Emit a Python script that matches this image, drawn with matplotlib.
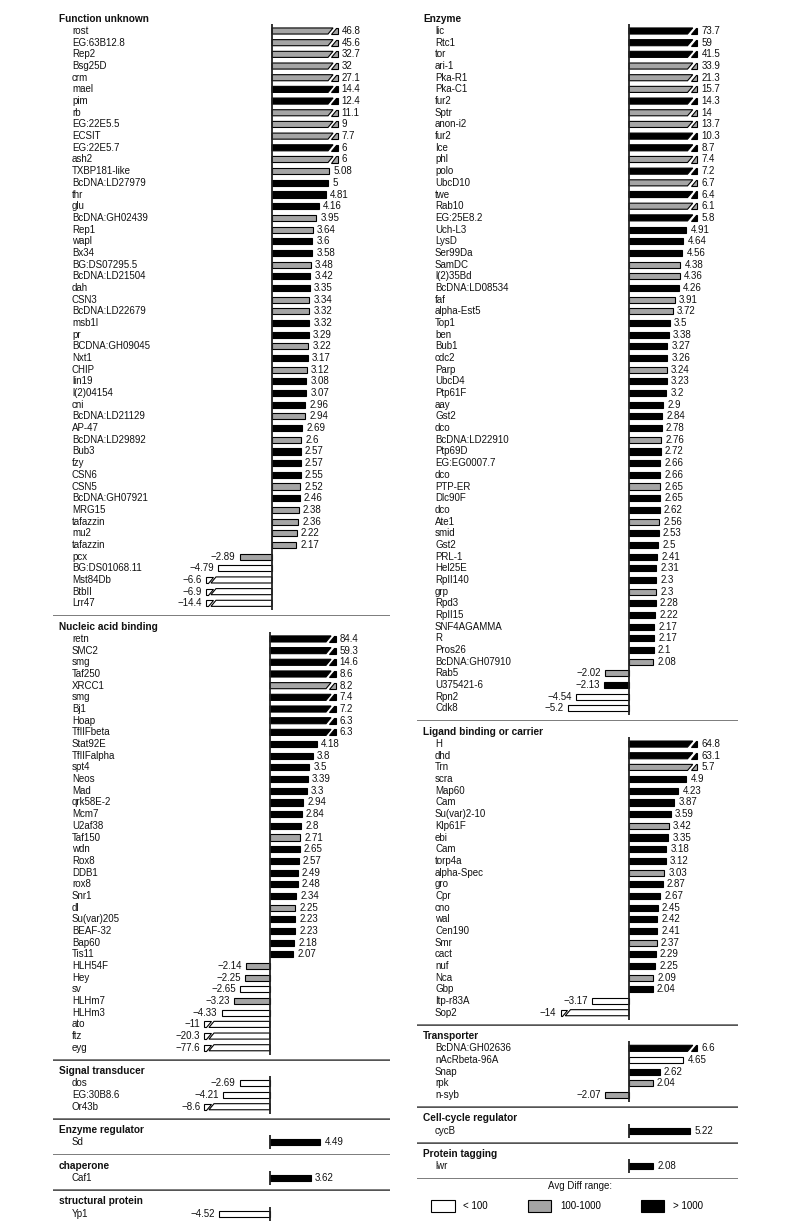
import matplotlib
matplotlib.use("Agg")
import matplotlib.pyplot as plt
from matplotlib.patches import Polygon, Patch
from matplotlib.transforms import blended_transform_factory

plt.rcParams['font.family'] = ['Liberation Sans', 'DejaVu Sans']

# ---------------- data ----------------
fu_genes = ["rost", "EG:63B12.8", "Rep2", "Bsg25D", "crm", "mael", "pim", "rb", "EG:22E5.5", "ECSIT",
            "EG:22E5.7", "ash2", "TXBP181-like", "BcDNA:LD27979", "thr", "glu", "BcDNA:GH02439", "Rep1",
            "wapl", "Bx34", "BG:DS07295.5", "BcDNA:LD21504", "dah", "CSN3", "BcDNA:LD22679", "msb1l", "pr",
            "BCDNA:GH09045", "Nxt1", "CHIP", "lin19", "l(2)04154", "cni", "BcDNA:LD21129", "AP-47",
            "BcDNA:LD29892", "Bub3", "fzy", "CSN6", "CSN5", "BcDNA:GH07921", "MRG15", "tafazzin", "mu2",
            "tafazzin", "pcx", "BG:DS01068.11", "Mst84Db", "BtbII", "Lrr47"]
fu_values = [46.8, 45.6, 32.7, 32, 27.1, 14.4, 12.4, 11.1, 9, 7.7, 6, 6, 5.08, 5, 4.81, 4.16, 3.95, 3.64,
             3.6, 3.58, 3.48, 3.42, 3.35, 3.34, 3.32, 3.32, 3.29, 3.22, 3.17, 3.12, 3.08, 3.07, 2.96, 2.94,
             2.69, 2.6, 2.57, 2.57, 2.55, 2.52, 2.46, 2.38, 2.36, 2.22, 2.17, -2.89, -4.79, -6.6, -6.9, -14.4]
fu_levels = list("gggggbbgggbgg" "bbbgg" "bbgbbggbbgbgbbbgbgbbbgbgggg" "gwwww")

na_genes = ["retn", "SMC2", "smg", "Taf250", "XRCC1", "smg", "Bj1", "Hoap", "TfIIFbeta", "Stat92E",
            "TfIIFalpha", "spt4", "Neos", "Mad", "qrk58E-2", "Mcm7", "U2af38", "Taf150", "wdn", "Rox8",
            "DDB1", "rox8", "Snr1", "dl", "Su(var)205", "BEAF-32", "Bap60", "Tis11", "HLH54F", "Hey", "sv",
            "HLHm7", "HLHm3", "ato", "ftz", "eyg"]
na_values = [84.4, 59.3, 14.6, 8.6, 8.2, 7.4, 7.2, 6.3, 6.3, 4.18, 3.8, 3.5, 3.39, 3.3, 2.94, 2.84, 2.8,
             2.71, 2.65, 2.57, 2.49, 2.48, 2.34, 2.25, 2.23, 2.23, 2.18, 2.07, -2.14, -2.25, -2.65, -3.23,
             -4.33, -11, -20.3, -77.6]
na_levels = list("bbbbgbbbb" "bbbbbbbbgbb" "bbbgbbbb" "ggwgwwww")

st_genes = ["dos", "EG:30B8.6", "Or43b"]
st_values = [-2.69, -4.21, -8.6]
st_levels = list("www")

er_genes = ["Sd"]
er_values = [4.49]
er_levels = ["b"]

ch_genes = ["Caf1"]
ch_values = [3.62]
ch_levels = ["b"]

sp_genes = ["Yp1"]
sp_values = [-4.52]
sp_levels = ["w"]

en_genes = ["lic", "Rtc1", "tor", "ari-1", "Pka-R1", "Pka-C1", "fur2", "Sptr", "anon-i2", "fur2", "Ice",
            "phl", "polo", "UbcD10", "twe", "Rab10", "EG:25E8.2", "Uch-L3", "LysD", "Ser99Da", "SamDC",
            "l(2)35Bd", "BcDNA:LD08534", "faf", "alpha-Est5", "Top1", "ben", "Bub1", "cdc2", "Parp",
            "UbcD4", "Ptp61F", "aay", "Gst2", "dco", "BcDNA:LD22910", "Ptp69D", "EG:EG0007.7", "dco",
            "PTP-ER", "Dlc90F", "dco", "Ate1", "smid", "Gst2", "PRL-1", "Hel25E", "RpII140", "grp", "Rpd3",
            "RpII15", "SNF4AGAMMA", "R", "Pros26", "BcDNA:GH07910", "Rab5", "U375421-6", "Rpn2", "Cdk8"]
en_values = [73.7, 59, 41.5, 33.9, 21.3, 15.7, 14.3, 14, 13.7, 10.3, 8.7, 7.4, 7.2, 6.7, 6.4, 6.1, 5.8,
             4.91, 4.64, 4.56, 4.38, 4.36, 4.26, 3.91, 3.72, 3.5, 3.38, 3.27, 3.26, 3.24, 3.23, 3.2, 2.9,
             2.84, 2.78, 2.76, 2.72, 2.66, 2.66, 2.65, 2.65, 2.62, 2.56, 2.53, 2.5, 2.41, 2.31, 2.3, 2.3,
             2.28, 2.22, 2.17, 2.17, 2.1, 2.08, -2.02, -2.13, -4.54, -5.2]
en_levels = list("bbbgggbggbbgbgbgb" "bbbggbggbbbbgbbbb" "bgbbbgbbgbbbbbgbbbbbg" "gbww")

lb_genes = ["H", "dhd", "Trn", "scra", "Map60", "Cam", "Su(var)2-10", "Klp61F", "ebi", "Cam", "torp4a",
            "alpha-Spec", "gro", "Cpr", "cno", "wal", "Cen190", "Smr", "cact", "nuf", "Nca", "Gbp",
            "Itp-r83A", "Sop2"]
lb_values = [64.8, 63.1, 5.7, 4.9, 4.23, 3.87, 3.59, 3.42, 3.35, 3.18, 3.12, 3.03, 2.87, 2.67, 2.45,
             2.42, 2.41, 2.37, 2.29, 2.25, 2.09, 2.04, -3.17, -14]
lb_levels = list("bbgbbbbgbbbgbbbbbgbbgbww")

tr_genes = ["BcDNA:GH02636", "nAcRbeta-96A", "Snap", "rpk", "n-syb"]
tr_values = [6.6, 4.65, 2.62, 2.04, -2.07]
tr_levels = list("bwbgg")

cc_genes = ["cycB"]
cc_values = [5.22]
cc_levels = ["b"]

pt_genes = ["lwr"]
pt_values = [2.08]
pt_levels = ["b"]

legend_title = "Avg Diff range:"
legend_labels = ["< 100", "100-1000", "> 1000"]

# ---------------- styling ----------------
FILL = {"w": "white", "g": "#a5a5a5", "b": "black"}
W, H, DPI = 800, 1228, 100
ROW = 11.68
FS = 7
BREAK_AT = 5.5
M_BOT, SLANT, P_BOT, P_END = 5.0, 0.45, 5.3, 5.85
BH = 0.52

fig = plt.figure(figsize=(W / DPI, H / DPI), dpi=DPI)

LEFT = dict(left=53, right=390, zero=270, scale=11.2, hdr=59, lab=72)
RIGHT = dict(left=417, right=738, zero=629, scale=11.7, hdr=423, lab=435)


def fmt(v):
    return f"{v:g}".replace("-", "\u2212")


def panel(title, genes, values, levels, y_first, col, zero=None, sep=True):
    n = len(genes)
    z = col["zero"] if zero is None else zero
    top_row, bot_row = -1.6, n + 0.1
    top_px = y_first + top_row * ROW
    bot_px = y_first + bot_row * ROW
    ax = fig.add_axes([col["left"] / W, 1 - bot_px / H,
                       (col["right"] - col["left"]) / W, (bot_px - top_px) / H])
    ax.set_xlim((col["left"] - z) / col["scale"], (col["right"] - z) / col["scale"])
    ax.set_ylim(bot_row, top_row)
    ax.axis("off")
    tr = blended_transform_factory(ax.transAxes, ax.transData)
    wpx = col["right"] - col["left"]
    ax.text((col["hdr"] - col["left"]) / wpx, -1.05, title, transform=tr, fontsize=FS + 0.3,
            fontweight="bold", va="center", ha="left", color="#111")
    for i, (g, v, lv) in enumerate(zip(genes, values, levels)):
        ax.text((col["lab"] - col["left"]) / wpx, i, g, transform=tr, fontsize=FS,
                va="center", ha="left", color="#111")
        fc = FILL[lv]
        top, bot = i - BH / 2, i + BH / 2
        if abs(v) > BREAK_AT:
            if v > 0:
                main = [(0, top), (M_BOT + SLANT, top), (M_BOT, bot), (0, bot)]
                piece = [(P_BOT, bot), (P_END, bot), (P_END, top), (P_BOT + SLANT, top)]
            else:
                main = [(0, top), (-M_BOT, top), (-M_BOT - SLANT, bot), (0, bot)]
                piece = [(-P_BOT, top), (-P_END, top), (-P_END, bot), (-P_BOT - SLANT, bot)]
            for pts in (main, piece):
                ax.add_patch(Polygon(pts, closed=True, facecolor=fc, edgecolor="black",
                                     linewidth=0.8, joinstyle="miter"))
            end = P_END if v > 0 else -P_END
        else:
            ax.barh(i, v, height=BH, color=fc, edgecolor="black", linewidth=0.8)
            end = v
        if v > 0:
            ax.annotate(fmt(v), (end, i), xytext=(3, 0), textcoords="offset points",
                        fontsize=FS, va="center", ha="left", color="#111")
        else:
            ax.annotate(fmt(v), (end, i), xytext=(-3, 0), textcoords="offset points",
                        fontsize=FS, va="center", ha="right", color="#111")
    ax.vlines(0, -0.6, n - 0.4, color="#222", linewidth=1.3)
    if sep:
        ax.axhline(n + 0.05, color="#555", linewidth=1.8)
    return y_first + (n + 2.05) * ROW


y = 31
y = panel("Function unknown", fu_genes, fu_values, fu_levels, y, LEFT, zero=272)
y = panel("Nucleic acid binding", na_genes, na_values, na_levels, y, LEFT)
y = panel("Signal transducer", st_genes, st_values, st_levels, y, LEFT)
y = panel("Enzyme regulator", er_genes, er_values, er_levels, y, LEFT)
y = panel("chaperone", ch_genes, ch_values, ch_levels, y, LEFT)
y = panel("structural protein", sp_genes, sp_values, sp_levels, y, LEFT, sep=False)

y = 31
y = panel("Enzyme", en_genes, en_values, en_levels, y, RIGHT)
y = panel("Ligand binding or carrier", lb_genes, lb_values, lb_levels, y, RIGHT)
y = panel("Transporter", tr_genes, tr_values, tr_levels, y, RIGHT)
y = panel("Cell-cycle regulator", cc_genes, cc_values, cc_levels, y, RIGHT)
y = panel("Protein tagging", pt_genes, pt_values, pt_levels, y, RIGHT)

fig.text(580 / W, 1 - 1186 / H, legend_title, fontsize=FS, ha="center", va="center", color="#111")
handles = [Patch(facecolor=FILL[k], edgecolor="black", linewidth=0.8, label=lab)
           for k, lab in zip("wgb", legend_labels)]
fig.legend(handles=handles, loc="upper center", bbox_to_anchor=(567 / W, 1 - 1200 / H), ncol=3,
           frameon=False, fontsize=FS, handlelength=2.4, handleheight=1.45, handletextpad=0.9,
           columnspacing=4.1, borderaxespad=0, borderpad=0)

fig.savefig("out.png", dpi=DPI, facecolor="white")
